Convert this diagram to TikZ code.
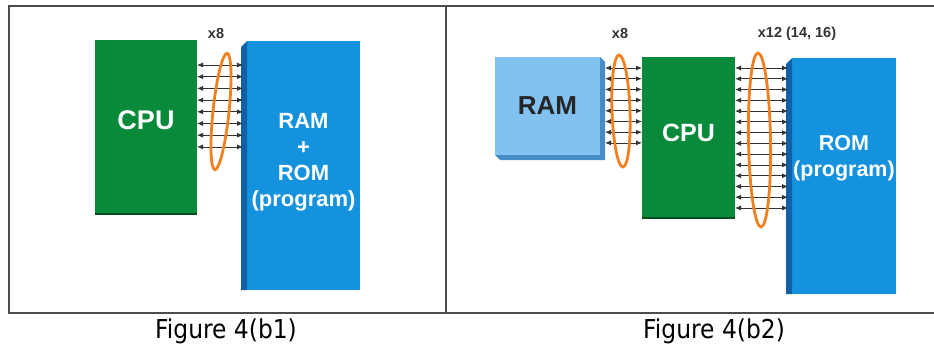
\documentclass[tikz,border=0pt]{standalone}
\usepackage{fontspec}
\setmainfont{Liberation Sans}
\newfontfamily\capfont[FakeStretch=0.9]{DejaVu Sans}
\usetikzlibrary{arrows.meta}
\definecolor{cpugreen}{RGB}{8,138,58}
\definecolor{romblue}{RGB}{20,146,222}
\definecolor{ramblue}{RGB}{130,194,240}
\definecolor{sideblue}{RGB}{16,96,165}
\definecolor{ramside}{RGB}{70,140,200}
\definecolor{ringorange}{RGB}{240,128,32}
\definecolor{framegray}{RGB}{75,75,75}
\tikzset{
  chip/.style={inner sep=0pt,outer sep=0pt},
  cpubox/.style={chip,fill=cpugreen},
  rombox/.style={chip,fill=romblue},
  rambox/.style={chip,fill=ramblue},
  chiptext/.style={text=white,align=center,font=\bfseries\fontsize{#1}{26}\selectfont},
  bus/.style={{Latex[length=6pt,width=5pt]}-{Latex[length=6pt,width=5pt]},line width=0.8pt,black!80},
  ring/.style={ringorange,line width=2.8pt},
  buslabel/.style={text=black!80,font=\bfseries\fontsize{14.5}{15}\selectfont},
  caption/.style={font=\capfont\fontsize{26}{28}\selectfont},
  frame/.style={framegray,line width=2pt}
}
\begin{document}
\begin{tikzpicture}[x=1pt,y=-1pt]
\useasboundingbox (0,0) rectangle (934,349);
\draw[frame] (934,6) -- (9,6) -- (9,313) -- (934,313);
\draw[frame] (446,6) -- (446,313);

% figure 4(b1)
\node[cpubox,minimum width=102pt,minimum height=174pt,
  label={[chiptext=27,yshift=7pt]center:CPU}] (cpuA) at (146,127) {};
\draw[cpugreen!55!black,line width=1.5pt] (cpuA.south west) -- (cpuA.south east);
\node[rombox,minimum width=113pt,minimum height=249pt,
  label={[chiptext=22,yshift=3.5pt]center:RAM\\+\\ROM\\(program)}] (memA) at (303.5,165.5) {};
\fill[sideblue] (memA.north west) -- ++(-6,6) -- ([xshift=-6pt]memA.south west) -- (memA.south west) -- cycle;
\coordinate (memAin) at ([xshift=-4pt]memA.west);
\foreach \i [evaluate=\i as \y using 65+11.7*\i] in {0,...,7}
  \draw[bus] (cpuA.east |- 0,\y) -- (memAin |- 0,\y);
\draw[ring] (221,111.5) ellipse [x radius=8,y radius=58.5,rotate=-6];
\node[buslabel] (widthA) at (216,34) {x8};

% figure 4(b2)
\node[rambox,minimum width=105pt,minimum height=98pt,
  label={[chiptext=26,text=black!85]center:RAM}] (ramB) at (547.5,106) {};
\fill[ramside] (ramB.north east) -- ++(5,5) -- ([shift={(5pt,-5pt)}]ramB.south east)
  -- ([shift={(5pt,-5pt)}]ramB.south west) -- (ramB.south west) -- (ramB.south east) -- cycle;
\node[cpubox,minimum width=93pt,minimum height=161pt,
  label={[chiptext=25,yshift=4.5pt]center:CPU}] (cpuB) at (688.5,137.5) {};
\draw[cpugreen!55!black,line width=1.5pt] (cpuB.south west) -- (cpuB.south east);
\node[rombox,minimum width=104pt,minimum height=236pt,
  label={[chiptext=21.5,yshift=18pt]center:ROM\\(program)}] (romB) at (844,176) {};
\fill[sideblue] (romB.north west) -- ++(-6,6) -- ([xshift=-6pt]romB.south west) -- (romB.south west) -- cycle;
\coordinate (ramBout) at ([xshift=5pt]ramB.east);
\coordinate (romBin) at ([xshift=-4pt]romB.west);
\foreach \i [evaluate=\i as \y using 68+10.7*\i] in {0,...,7}
  \draw[bus] (ramBout |- 0,\y) -- (cpuB.west |- 0,\y);
\foreach \i [evaluate=\i as \y using 68+10.77*\i] in {0,...,13}
  \draw[bus] (cpuB.east |- 0,\y) -- (romBin |- 0,\y);
\draw[ring] (621,111) ellipse [x radius=9,y radius=56,rotate=2];
\draw[ring] (759.5,140) ellipse [x radius=11,y radius=87,rotate=1];
\node[buslabel] (widthB) at (620,34) {x8};
\node[buslabel] (widthC) at (797,34) {x12 (14, 16)};

\node[caption] (capA) at (226,331) {Figure 4(b1)};
\node[caption] (capB) at (714,331) {Figure 4(b2)};
\end{tikzpicture}
\end{document}
